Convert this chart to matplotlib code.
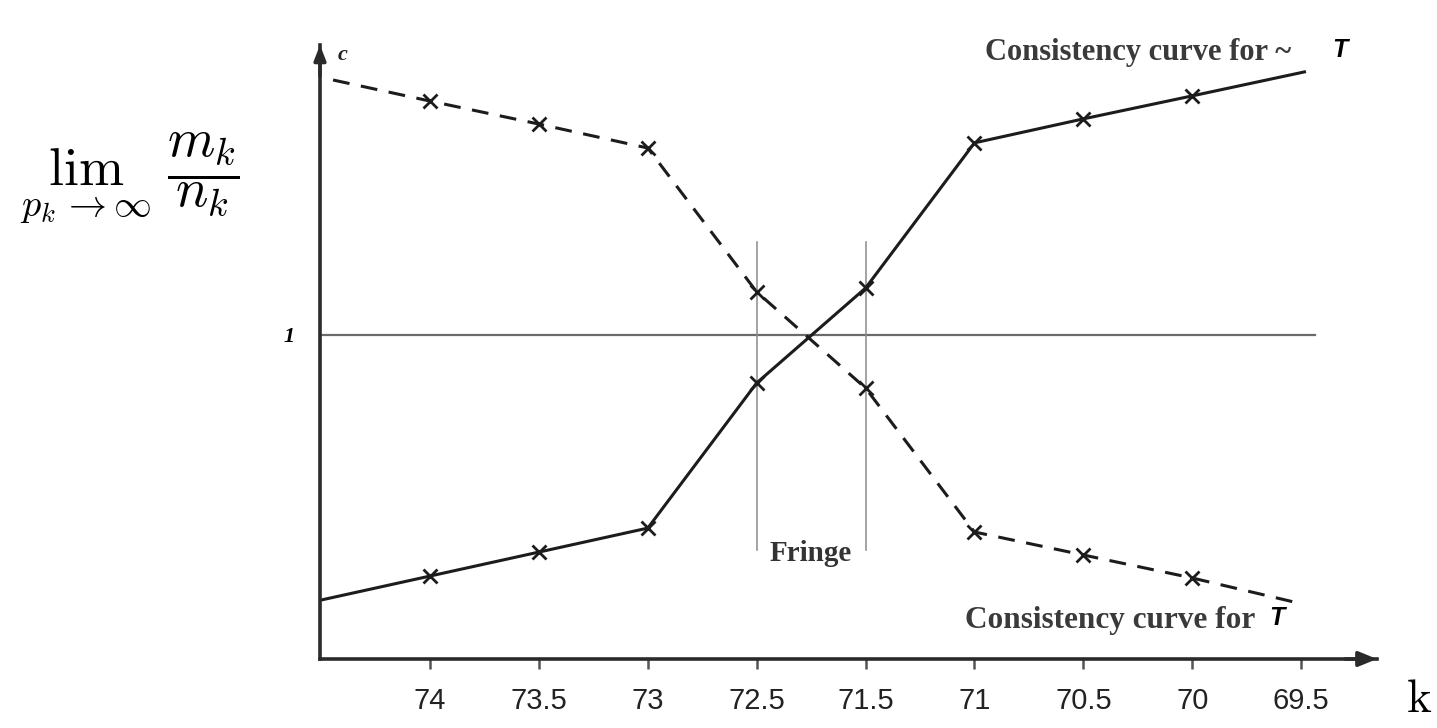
import numpy as np
import matplotlib.pyplot as plt

plt.rcParams['mathtext.fontset'] = 'cm'

# categories along k (72 is not on the axis)
k_labels = ['74', '73.5', '73', '72.5', '71.5', '71', '70.5', '70', '69.5']

# consistency curve for ~T (solid), with its two free ends
solid_x = [-1.0, 0, 1, 2, 3, 4, 5, 6, 7, 8.03]
solid_y = [0.182, 0.256, 0.330, 0.404, 0.852, 1.145, 1.593, 1.667, 1.738, 1.812]

# consistency curve for T (dashed)
dash_x = [-0.89, 0, 1, 2, 3, 4, 5, 6, 7, 7.97]
dash_y = [1.787, 1.722, 1.651, 1.577, 1.133, 0.836, 0.392, 0.321, 0.250, 0.173]

fringe_x = [3, 4]
fringe_lo, fringe_hi = 0.336, 1.287

fig = plt.figure(figsize=(14.37, 7.28), dpi=100)
ax = fig.add_axes([320/1437, 1 - 659/728, (1377-320)/1437, (659-45)/728])
ax.set_xlim(-1.01, 8.696)
ax.set_ylim(0, 1.895)

dark = '#1c1c1c'
grey = '#6a6a6a'

# reference line at 1 and the fringe
ax.plot([-1.01, 8.13], [1, 1], color=grey, lw=1.6, clip_on=False)
for fx in fringe_x:
    ax.plot([fx, fx], [fringe_lo, fringe_hi], color='#8a8a8a', lw=1.1)
ax.text(3.5, 0.325, 'Fringe', family='Liberation Serif', fontweight='bold',
        fontsize=21, color='#333333', ha='center', va='center')

# the two curves
ax.plot(solid_x, solid_y, color=dark, lw=2.2, clip_on=False)
ax.plot(solid_x[1:-1], solid_y[1:-1], 'x', color=dark, ms=10, mew=2)
ax.plot(dash_x, dash_y, color=dark, lw=2.2, linestyle=(0, (5.5, 3.8)))
ax.plot(dash_x[1:-1], dash_y[1:-1], 'x', color=dark, ms=10, mew=2)

# curve captions
ax.text(5.096, 1.873, 'Consistency curve for ~', family='Liberation Serif',
        fontweight='bold', fontsize=22, color='#3a3a3a', va='center')
ax.text(8.356, 1.88, 'T', family='Liberation Sans', fontweight='bold',
        style='italic', fontsize=18, color='black', ha='center', va='center')
ax.text(4.913, 0.120, 'Consistency curve for', family='Liberation Serif',
        fontweight='bold', fontsize=22.5, color='#3a3a3a', va='center')
ax.text(7.78, 0.125, 'T', family='Liberation Sans', fontweight='bold',
        style='italic', fontsize=18, color='black', ha='center', va='center')

# axes as arrows
for s in ['top', 'right']:
    ax.spines[s].set_visible(False)
for s in ['left', 'bottom']:
    ax.spines[s].set_linewidth(2.6)
    ax.spines[s].set_color('#2a2a2a')
ax.annotate('', xy=(1.0, 0), xytext=(0.97, 0), xycoords='axes fraction',
            arrowprops=dict(arrowstyle='-|>,head_length=1.1,head_width=0.45',
                            color='#2a2a2a', lw=2.6, shrinkA=0, shrinkB=0),
            annotation_clip=False)
ax.annotate('', xy=(0, 1.0), xytext=(0, 0.95), xycoords='axes fraction',
            arrowprops=dict(arrowstyle='-|>,head_length=0.9,head_width=0.35',
                            color='#2a2a2a', lw=2.6, shrinkA=0, shrinkB=0),
            annotation_clip=False)
ax.text(-0.845, 1.864, 'c', family='Liberation Serif', fontweight='bold',
        style='italic', fontsize=16, color='#222222', va='center')

ax.set_xticks(range(len(k_labels)), k_labels)
ax.tick_params(axis='x', length=7, width=1.8, color='#555555', pad=13,
               labelsize=21, labelcolor='#222222')
for lab in ax.get_xticklabels():
    lab.set_family('Liberation Sans')
ax.set_yticks([1], ['1'])
ax.tick_params(axis='y', length=0, pad=18, labelsize=16)
for lab in ax.get_yticklabels():
    lab.set_family('Liberation Serif')
    lab.set_fontweight('bold')
    lab.set_style('italic')

fig.text(130/1437, 1 - 178/728, r'$\lim_{p_k\to\infty}\ \dfrac{m_k}{n_k}$',
         fontsize=39, ha='center', va='center')
fig.text(1419/1437, 1 - 700/728, r'$\mathrm{k}$', fontsize=34,
         ha='center', va='center')

fig.savefig('out.png', dpi=100)
